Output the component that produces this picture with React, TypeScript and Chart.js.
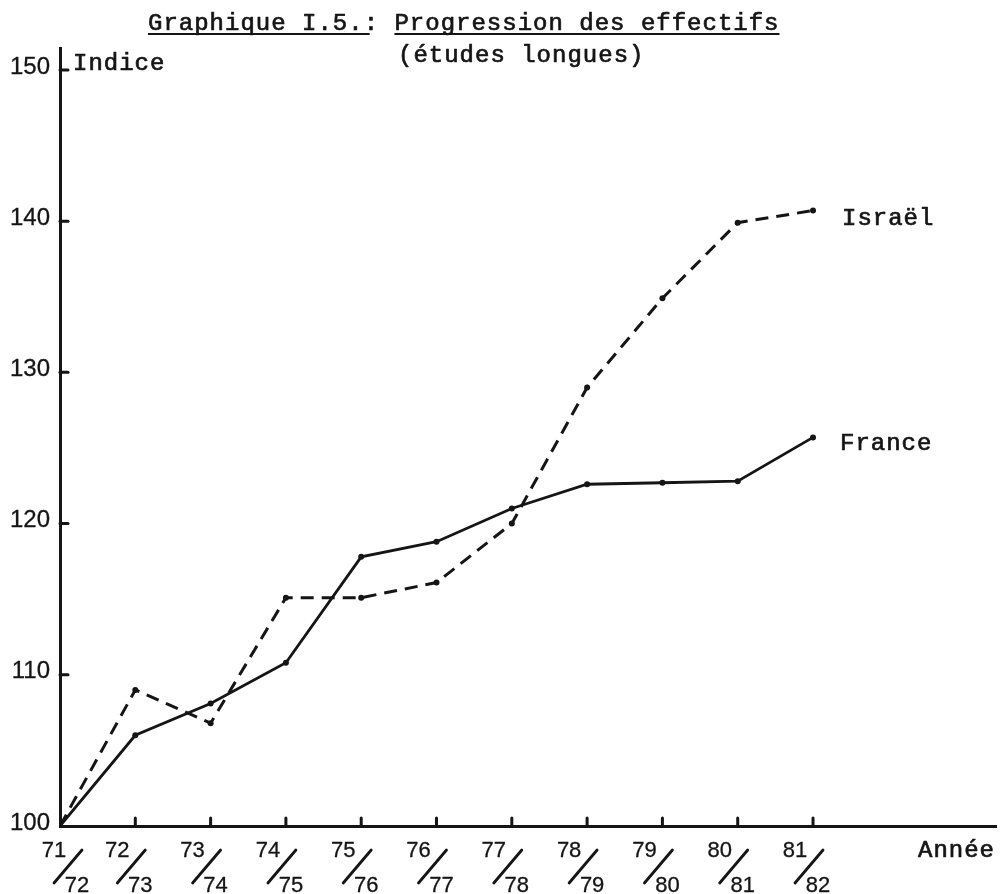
import { useEffect, useRef } from 'react';
import { Chart, registerables } from 'chart.js';

Chart.register(...registerables);

// ---- Data ----
const categoriesTop = ['71', '72', '73', '74', '75', '76', '77', '78', '79', '80', '81'];
const categoriesBottom = ['72', '73', '74', '75', '76', '77', '78', '79', '80', '81', '82'];
const franceValues = [100, 106, 108.1, 110.8, 117.8, 118.8, 121, 122.6, 122.7, 122.8, 125.7];
const israelValues = [100, 109, 106.8, 115.1, 115.1, 116.1, 120, 129, 134.9, 139.9, 140.7];
const yTickValues = [100, 110, 120, 130, 140, 150];
const titleMain = 'Graphique I.5.';
const titleRest = 'Progression des effectifs';
const subtitle = '(études longues)';
const yAxisTitle = 'Indice';
const xAxisTitle = 'Année';
const seriesNames = ['France', 'Israël'];

const INK = '#151515';
const MONO = '"Liberation Mono", "DejaVu Sans Mono", monospace';
const SANS = '"Liberation Sans", Arial, sans-serif';

function seg(ctx: CanvasRenderingContext2D, ax: number, ay: number, bx: number, by: number) {
  ctx.beginPath();
  ctx.moveTo(ax, ay);
  ctx.lineTo(bx, by);
  ctx.stroke();
}

function inkText(ctx: CanvasRenderingContext2D, s: string, x: number, y: number, w = 0.7) {
  ctx.fillText(s, x, y);
  ctx.lineWidth = w;
  ctx.strokeText(s, x, y);
}

const annotatePlugin = {
  id: 'annotate',
  afterDraw(chart: any) {
    const ctx: CanvasRenderingContext2D = chart.ctx;
    const xs = chart.scales.x;
    const ys = chart.scales.y;
    ctx.save();
    ctx.fillStyle = INK;
    ctx.strokeStyle = INK;
    ctx.lineCap = 'round';
    ctx.lineJoin = 'round';

    const x0 = xs.getPixelForValue(0);
    const yBase = ys.getPixelForValue(100);

    // y ticks (inward) and labels
    ctx.font = `24px ${SANS}`;
    ctx.textAlign = 'right';
    ctx.textBaseline = 'middle';
    yTickValues.forEach((v) => {
      const py = ys.getPixelForValue(v);
      if (v > 100) {
        ctx.lineWidth = 3;
        seg(ctx, x0, py, x0 + 8, py);
      }
      inkText(ctx, String(v), 50, py - 3, 0.3);
    });

    // x ticks (inward) and stacked year labels
    ctx.font = `22px ${SANS}`;
    ctx.textAlign = 'center';
    ctx.textBaseline = 'alphabetic';
    categoriesTop.forEach((top, i) => {
      const px = xs.getPixelForValue(i);
      if (i > 0) {
        ctx.lineWidth = 3;
        seg(ctx, px, yBase, px, yBase - 8);
      }
      const t = px + (i === 0 ? 12 : 0);
      inkText(ctx, top, t - 18, 857, 0.3);
      inkText(ctx, categoriesBottom[i], t + 5, 892, 0.3);
      ctx.lineWidth = 2.8;
      seg(ctx, t - 18, 883, t + 10, 850);
    });

    // Axis titles
    ctx.font = `24px ${MONO}`;
    (ctx as any).letterSpacing = '1px';
    ctx.textAlign = 'left';
    inkText(ctx, yAxisTitle, 73, 70);
    inkText(ctx, xAxisTitle, 918, 857);

    // Series labels
    inkText(ctx, seriesNames[1], 842, 225);
    inkText(ctx, seriesNames[0], 840, 450);

    // Title
    const tx = 148;
    const full = `${titleMain}: ${titleRest}`;
    inkText(ctx, full, tx, 30);
    const wMain = ctx.measureText(titleMain).width;
    const wPrefix = ctx.measureText(`${titleMain}: `).width;
    const wFull = ctx.measureText(full).width;
    ctx.lineWidth = 2;
    ctx.lineCap = 'butt';
    seg(ctx, tx, 34, tx + wMain + 6, 34);
    seg(ctx, tx + wPrefix, 34, tx + wFull, 34);

    // Subtitle
    inkText(ctx, subtitle, 398, 62);

    (ctx as any).letterSpacing = '0px';
    ctx.restore();
  },
};

export default function App() {
  const canvasRef = useRef<HTMLCanvasElement | null>(null);

  useEffect(() => {
    const canvas = canvasRef.current;
    if (!canvas) return;
    const chart = new Chart(canvas, {
      type: 'line',
      data: {
        datasets: [
          {
            label: seriesNames[1],
            data: israelValues.map((v, i) => ({ x: i, y: v })),
            borderColor: INK,
            backgroundColor: INK,
            borderWidth: 3,
            borderDash: [13, 8],
            pointRadius: 3,
            pointBorderWidth: 0,
            pointBackgroundColor: INK,
            tension: 0,
          },
          {
            label: seriesNames[0],
            data: franceValues.map((v, i) => ({ x: i, y: v })),
            borderColor: INK,
            backgroundColor: INK,
            borderWidth: 2.8,
            pointRadius: 3,
            pointBorderWidth: 0,
            pointBackgroundColor: INK,
            tension: 0,
          },
        ],
      },
      options: {
        responsive: false,
        animation: false,
        events: [],
        layout: { padding: { left: 60, right: 3, top: 48, bottom: 68 } },
        plugins: {
          legend: { display: false },
          tooltip: { enabled: false },
          title: { display: false },
        },
        scales: {
          x: {
            type: 'linear',
            min: 0,
            max: 12.43,
            ticks: { display: false },
            grid: { display: false, drawTicks: false },
            border: { display: true, color: INK, width: 3 },
          },
          y: {
            type: 'linear',
            min: 100,
            max: 151.45,
            ticks: { display: false },
            grid: { display: false, drawTicks: false },
            border: { display: true, color: INK, width: 3 },
          },
        },
      },
      plugins: [annotatePlugin],
    });
    return () => chart.destroy();
  }, []);

  return (
    <div style={{ position: 'fixed', left: 0, top: 0, width: 1000, height: 894, background: '#fff' }}>
      <canvas ref={canvasRef} width={1000} height={894} style={{ display: 'block' }} />
    </div>
  );
}
